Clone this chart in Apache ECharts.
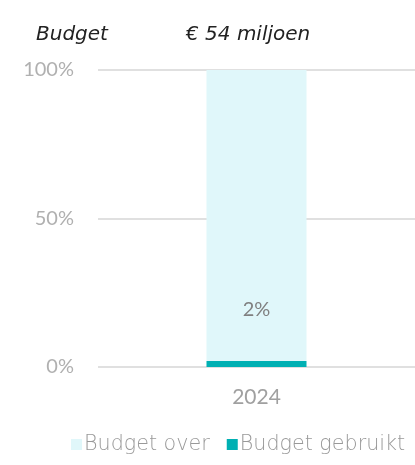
<!DOCTYPE html>
<html><head><meta charset="utf-8">
<script src="https://cdn.jsdelivr.net/npm/echarts@6/dist/echarts.min.js"></script>
<style>html,body{margin:0;padding:0;background:#fff}#c{width:415px;height:465px}</style>
</head><body><div id="c"></div>
<script>
const categories = ['2024'];
const usedPct = [2];
const leftPct = [98];
const usedLabels = ['2%'];
const yTicks = [0, 50, 100];
const titleLeft = 'Budget';
const titleRight = '€ 54 miljoen';

const chart = echarts.init(document.getElementById('c'), null, {renderer: 'canvas'});
const font = 'Lato, "Noto Sans", sans-serif';
const wide = '"DejaVu Sans", sans-serif';
chart.setOption({
  animation: false,
  title: [
    {text: titleLeft, left: 31, top: 20, textStyle: {fontFamily: wide, fontStyle: 'italic', fontWeight: 300, fontSize: 20, color: '#222'}},
    {text: titleRight, left: 181, top: 20, textStyle: {fontFamily: wide, fontStyle: 'italic', fontWeight: 300, fontSize: 20, color: '#222'}}
  ],
  legend: {
    data: ['Budget over', 'Budget gebruikt'],
    bottom: 5, left: 66,
    itemWidth: 11, itemHeight: 11, itemGap: 17, icon: 'rect',
    textStyle: {fontFamily: wide, fontWeight: 200, fontSize: 20.7, color: '#999', padding: [0, 0, 0, -3]}
  },
  grid: {left: 98, right: 0, top: 70, bottom: 98, containLabel: false},
  xAxis: {
    type: 'category', data: categories,
    axisLine: {show: false}, axisTick: {show: false},
    axisLabel: {fontFamily: font, fontSize: 21, color: '#a0a0a0', margin: 20}
  },
  yAxis: {
    type: 'value', min: 0, max: 100, interval: 50,
    axisLabel: {formatter: v => yTicks.includes(v) ? v + '%' : '', fontFamily: font, fontSize: 20, color: '#b0b0b0', margin: 24},
    splitLine: {lineStyle: {color: '#e0e0e0', width: 2}},
    axisLine: {show: false}, axisTick: {show: false}
  },
  series: [
    {name: 'Budget gebruikt', type: 'bar', stack: 's', data: usedPct, barWidth: 100,
     itemStyle: {color: '#00b0b3'},
     label: {show: true, position: 'top', distance: 42, formatter: p => usedLabels[p.dataIndex], fontFamily: font, fontSize: 20, color: '#808080'}},
    {name: 'Budget over', type: 'bar', stack: 's', data: leftPct, barWidth: 100,
     itemStyle: {color: '#e0f7fa'}, z: 1}
  ]
});
</script></body></html>
